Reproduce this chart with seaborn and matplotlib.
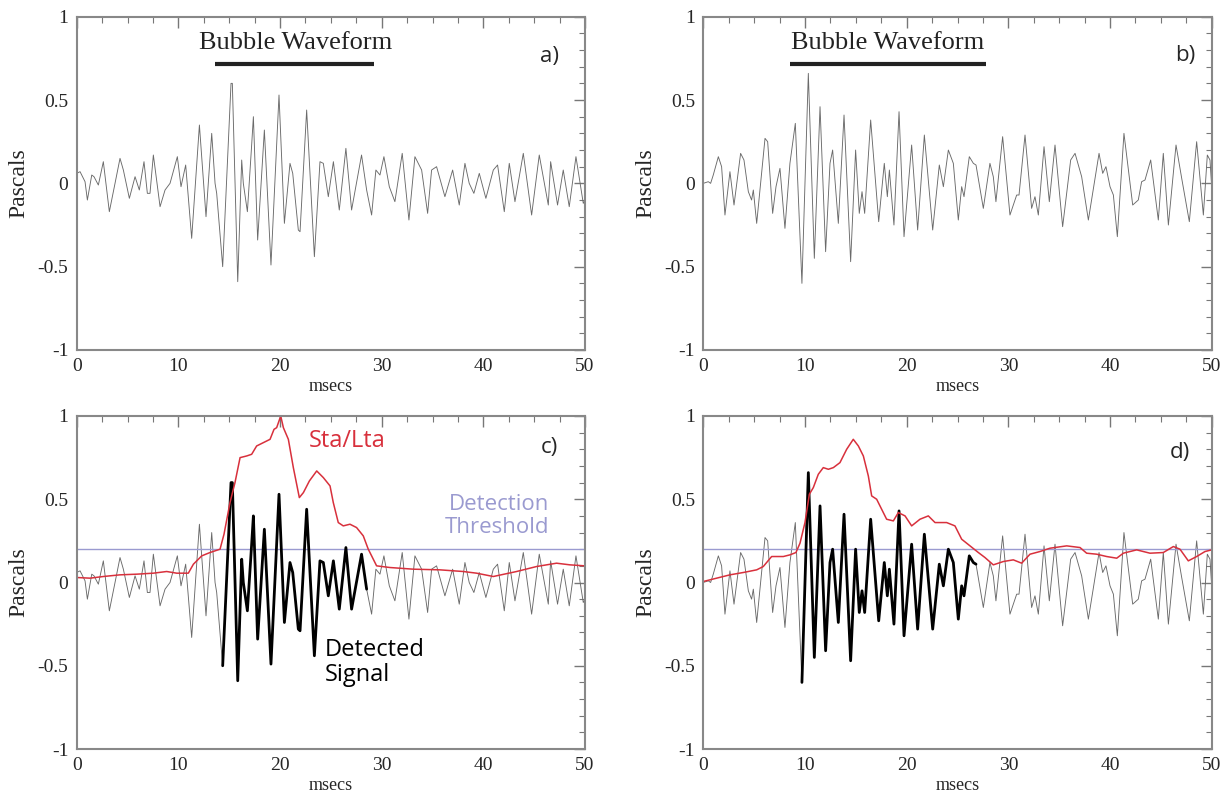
import numpy as np
import pandas as pd
import matplotlib
matplotlib.use("Agg")
import matplotlib.pyplot as plt
from matplotlib.ticker import MultipleLocator
import seaborn as sns

# ---- waveform A (panels a & c) ----
t_a = [0.00, 0.33, 0.82, 1.05, 1.48, 1.70, 2.13, 2.62, 3.21, 3.77, 4.26, 4.59, 5.18, 5.74, 6.16, 6.62, 6.95, 7.21,
       7.54, 8.20, 8.69, 9.18, 9.90, 10.26, 10.72, 11.31, 12.07, 12.72, 13.28, 13.61, 13.77, 14.36, 15.18, 15.31,
       15.84, 16.23, 16.39, 16.79, 17.21, 17.38, 17.80, 18.46, 19.11, 19.90, 20.43, 20.98, 21.25, 21.80, 21.97,
       22.62, 23.38, 23.93, 24.26, 24.75, 25.25, 25.83, 26.48, 27.04, 28.02, 28.52, 29.01, 29.43, 29.83, 30.22,
       30.75, 31.30, 32.02, 32.68, 33.27, 33.93, 34.52, 34.91, 35.40, 36.22, 36.98, 37.63, 38.19, 38.61, 39.07,
       39.60, 40.25, 40.98, 41.40, 42.06, 42.55, 43.11, 43.93, 44.75, 45.50, 46.39, 46.62, 47.30, 47.86, 48.45,
       49.11, 49.83, 50.00]
p_a = [0.06, 0.07, 0.01, -0.10, 0.05, 0.04, -0.01, 0.13, -0.17, 0.00, 0.15, 0.08, -0.09, 0.04, -0.04, 0.13, -0.06, -0.06,
       0.17, -0.14, -0.04, 0.00, 0.16, -0.02, 0.11, -0.33, 0.35, -0.20, 0.30, 0.00, -0.06, -0.50, 0.60, 0.60,
       -0.59, 0.14, 0.00, -0.17, 0.23, 0.40, -0.34, 0.32, -0.49, 0.53, -0.24, 0.12, 0.06, -0.28, -0.29,
       0.44, -0.44, 0.13, 0.12, -0.08, 0.13, -0.16, 0.21, -0.16, 0.17, -0.04, -0.19, 0.08, 0.05, 0.16,
       -0.02, -0.11, 0.18, -0.22, 0.16, 0.08, -0.18, 0.08, 0.10, -0.08, 0.08, -0.13, 0.12, 0.00, -0.06,
       0.06, -0.09, 0.08, 0.11, -0.17, 0.12, -0.11, 0.18, -0.19, 0.17, -0.13, 0.13, -0.13, 0.08, -0.14,
       0.16, -0.12, -0.10]

# ---- waveform B (panels b & d) ----
t_b = [0.00, 0.49, 0.72, 0.98, 1.48, 1.80, 2.13, 2.62, 3.02, 3.67, 4.00, 4.43, 4.75, 4.92, 5.25, 6.07, 6.33, 6.82,
       7.15, 7.54, 8.03, 8.52, 9.05, 9.70, 10.33, 10.92, 11.48, 12.03, 12.46, 12.72, 13.28, 13.84, 14.49, 14.98,
       15.34, 15.61, 15.87, 16.46, 17.25, 17.80, 18.10, 18.30, 18.75, 19.25, 19.74, 20.49, 21.08, 21.74, 22.56,
       23.21, 23.61, 24.10, 24.59, 25.08, 25.41, 25.64, 26.16, 26.56, 26.82, 27.54, 28.19, 28.52, 28.78, 29.44,
       30.16, 30.82, 31.05, 31.64, 32.29, 32.62, 32.95, 33.51, 34.03, 34.59, 35.34, 36.13, 36.56, 37.21, 37.87,
       38.92, 39.28, 39.60, 40.00, 40.33, 40.72, 41.37, 42.23, 42.78, 43.11, 43.44, 44.00, 44.75, 45.24, 45.74,
       46.49, 47.05, 47.80, 48.52, 49.18, 49.57, 49.83, 50.00]
p_b = [0.00, 0.01, 0.00, 0.05, 0.16, 0.10, -0.19, 0.07, -0.13, 0.18, 0.14, -0.05, -0.10, -0.04, -0.24, 0.27, 0.25, -0.18,
       -0.02, 0.09, -0.27, 0.12, 0.36, -0.60, 0.66, -0.45, 0.46, -0.41, 0.12, 0.20, -0.24, 0.41, -0.47, 0.20,
       -0.18, -0.05, -0.18, 0.38, -0.23, 0.12, -0.08, 0.08, -0.25, 0.43, -0.32, 0.23, -0.28, 0.29, -0.28,
       0.11, -0.02, 0.20, 0.12, -0.22, -0.02, -0.08, 0.16, 0.12, 0.11, -0.15, 0.12, 0.04, -0.11, 0.28,
       -0.19, -0.07, -0.07, 0.29, -0.15, -0.08, -0.19, 0.22, -0.11, 0.23, -0.26, 0.14, 0.18, 0.04, -0.22,
       0.18, 0.06, 0.10, -0.02, -0.07, -0.32, 0.30, -0.13, -0.10, 0.01, 0.02, 0.14, -0.22, 0.18, -0.25,
       0.23, 0.03, -0.23, 0.25, -0.19, 0.17, 0.14, -0.02]

# ---- Sta/Lta ratio (panel c) ----
t_sc = [0.00, 1.31, 2.62, 4.26, 5.90, 7.54, 8.85, 9.84, 10.98, 11.48, 12.30, 13.11, 14.10, 14.49, 15.08, 15.57,
        16.07, 16.72, 17.21, 17.70, 18.36, 19.02, 19.41, 19.67, 20.07, 20.33, 20.82, 21.31, 21.90, 22.30, 22.89,
        23.61, 24.26, 24.92, 25.24, 25.73, 26.22, 26.88, 27.53, 28.19, 28.68, 29.01, 29.50, 30.81, 33.11, 35.73,
        38.02, 39.34, 40.98, 43.27, 45.24, 47.20, 48.52, 50.00]
r_sc = [0.03, 0.026, 0.036, 0.046, 0.05, 0.056, 0.066, 0.056, 0.056, 0.11, 0.16, 0.18, 0.20, 0.29, 0.48, 0.60,
        0.75, 0.76, 0.77, 0.82, 0.84, 0.86, 0.92, 0.93, 1.00, 0.93, 0.86, 0.69, 0.51, 0.54, 0.61,
        0.67, 0.63, 0.58, 0.48, 0.36, 0.34, 0.35, 0.33, 0.28, 0.20, 0.16, 0.10, 0.09, 0.08, 0.076,
        0.066, 0.056, 0.036, 0.066, 0.096, 0.116, 0.106, 0.10]

# ---- Sta/Lta ratio (panel d) ----
t_sd = [0.00, 1.31, 2.62, 3.93, 5.25, 5.90, 6.72, 7.87, 8.52, 9.11, 9.51, 10.00, 10.43, 10.82, 11.31, 11.80, 12.30,
        12.79, 13.44, 14.10, 14.75, 15.25, 15.74, 16.23, 16.56, 17.05, 17.54, 18.03, 18.69, 19.18, 19.84, 20.49,
        21.31, 22.13, 22.79, 23.93, 24.75, 25.41, 26.23, 27.05, 27.70, 28.52, 29.51, 30.49, 31.31, 32.13, 33.11,
        34.10, 35.74, 37.05, 37.70, 38.69, 39.67, 40.66, 41.31, 42.62, 43.93, 45.24, 46.23, 46.88, 47.70, 48.52,
        49.34, 50.00]
r_sd = [0.006, 0.026, 0.046, 0.06, 0.076, 0.096, 0.156, 0.156, 0.166, 0.18, 0.236, 0.36, 0.53, 0.57, 0.65, 0.69, 0.68,
        0.69, 0.72, 0.80, 0.86, 0.82, 0.76, 0.64, 0.52, 0.50, 0.44, 0.38, 0.37, 0.42, 0.40, 0.34,
        0.38, 0.40, 0.36, 0.36, 0.34, 0.26, 0.22, 0.18, 0.15, 0.106, 0.126, 0.136, 0.116, 0.17, 0.186,
        0.206, 0.22, 0.21, 0.176, 0.17, 0.156, 0.146, 0.176, 0.196, 0.176, 0.18, 0.216, 0.20, 0.13, 0.156,
        0.186, 0.196]

threshold = 0.2
detect_c = (14.0, 28.7)
detect_d = (9.1, 27.4)
bubble_a = (13.6, 29.2)
bubble_b = (8.5, 27.8)

sns.set_style("white")
plt.rcParams["font.family"] = ["Liberation Serif", "DejaVu Serif"]

fig = plt.figure(figsize=(12.3, 8.01), dpi=100)
W, H = 1230, 801
def add_ax(l, r, t, b):
    return fig.add_axes([l / W, 1 - b / H, (r - l) / W, (b - t) / H])

ax_a = add_ax(76.7, 585, 16.7, 350)
ax_b = add_ax(703.3, 1211.7, 16.7, 350)
ax_c = add_ax(76.7, 585, 416, 749)
ax_d = add_ax(703.3, 1211.7, 416, 749)

wave_col = "#6a6a6a"
red = "#d8303c"
thr_col = "#9a9ad0"
sans = ["Open Sans", "DejaVu Sans"]

def wave(ax, t, p):
    df = pd.DataFrame({"t": t, "p": p})
    sns.lineplot(data=df, x="t", y="p", ax=ax, color=wave_col, lw=0.65, sort=False, estimator=None)
    return df

def style(ax):
    ax.set_xlim(0, 50)
    ax.set_ylim(-1, 1)
    ax.xaxis.set_major_locator(MultipleLocator(10))
    ax.xaxis.set_minor_locator(MultipleLocator(2.5))
    ax.yaxis.set_major_locator(MultipleLocator(0.5))
    ax.yaxis.set_minor_locator(MultipleLocator(0.1))
    ax.set_yticks([-1, -0.5, 0, 0.5, 1])
    ax.set_yticklabels(["-1", "-0.5", "0", "0.5", "1"])
    ax.tick_params(which="both", direction="in", top=True, right=True, color="#777777", labelsize=14, pad=6)
    ax.tick_params(which="major", length=8, width=1)
    ax.tick_params(which="minor", length=4, width=0.8)
    for s in ax.spines.values():
        s.set_color("#888888")
        s.set_linewidth(1.5)
    ax.set_xlabel("msecs", fontsize=13, labelpad=2)
    ax.set_ylabel("Pascals", fontsize=17, labelpad=6)

for ax, t, p, bub, lab, lx, ly, tx in [(ax_a, t_a, p_a, bubble_a, "a)", 46.5, 0.76, 21.5),
                                       (ax_b, t_b, p_b, bubble_b, "b)", 47.4, 0.77, 18.1)]:
    wave(ax, t, p)
    ax.plot(list(bub), [0.715, 0.715], color="#222222", lw=3, solid_capstyle="butt")
    ax.text(tx, 0.84, "Bubble Waveform", fontsize=19, ha="center", va="center", color="#222222")
    ax.text(lx, ly, lab, fontsize=16, family=sans, ha="center", va="center")
    style(ax)

for ax, t, p, ts, rs, det, lab, lx, ly in [(ax_c, t_a, p_a, t_sc, r_sc, detect_c, "c)", 46.5, 0.81),
                                          (ax_d, t_b, p_b, t_sd, r_sd, detect_d, "d)", 46.9, 0.78)]:
    df = wave(ax, t, p)
    ax.axhline(threshold, color=thr_col, lw=1)
    seg = df[(df["t"] >= det[0]) & (df["t"] <= det[1])]
    sns.lineplot(data=seg, x="t", y="p", ax=ax, color="black", lw=2, sort=False, estimator=None)
    sns.lineplot(x=ts, y=rs, ax=ax, color=red, lw=1.1, sort=False, estimator=None)
    ax.text(lx, ly, lab, fontsize=16, family=sans, ha="center", va="center")
    style(ax)

ax_c.text(22.8, 0.85, "Sta/Lta", fontsize=17, family=sans, color=red, ha="left", va="center")
ax_c.text(46.5, 0.40, "Detection\nThreshold", fontsize=16, family=sans, color=thr_col, ha="right", va="center",
          linespacing=1.15)
ax_c.text(24.4, -0.48, "Detected\nSignal", fontsize=17, family=sans, color="black", ha="left", va="center",
          linespacing=1.1)

fig.savefig("out.png", dpi=100)
